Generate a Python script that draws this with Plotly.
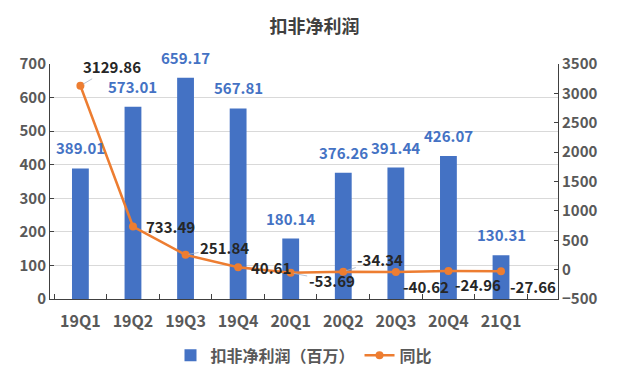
import plotly.graph_objects as go

categories = ["19Q1", "19Q2", "19Q3", "19Q4", "20Q1", "20Q2", "20Q3", "20Q4", "21Q1"]
profit = [389.01, 573.01, 659.17, 567.81, 180.14, 376.26, 391.44, 426.07, 130.31]
yoy = [3129.86, 733.49, 251.84, 40.61, -53.69, -34.34, -40.62, -24.96, -27.66]
left_ticks = [0, 100, 200, 300, 400, 500, 600, 700]
right_ticks = [-500, 0, 500, 1000, 1500, 2000, 2500, 3000, 3500]

# label offsets (pixels) for line labels -- styling only
yoy_dx = [32, 38, 39, 33, 41, 37, 30, 30, 32]
yoy_dy = [-19, 0, -7, 0, 8, -12, 14, 13, 15]
yoy_leader = [True, False, True, False, True, True, False, False, False]

FONT = "Noto Sans CJK SC"
BLUE = "#4472C4"
ORANGE = "#ED7D31"
GREY = "#595959"

fig = go.Figure()
fig.add_trace(go.Bar(
    x=categories, y=profit, name="扣非净利润（百万）",
    marker=dict(color=BLUE, line=dict(width=0)), width=0.32,
    yaxis="y",
))
fig.add_trace(go.Scatter(
    x=categories, y=yoy, name="同比", mode="lines+markers",
    line=dict(color=ORANGE, width=2.5), marker=dict(color=ORANGE, size=8),
    yaxis="y2",
))

annotations = []
for c, v in zip(categories, profit):
    annotations.append(dict(
        x=c, y=v, xref="x", yref="y", text=f"{v:.2f}", showarrow=False,
        yanchor="bottom", yshift=8,
        font=dict(family=FONT, size=15, color=BLUE, weight="bold"),
    ))
for i, (c, v) in enumerate(zip(categories, yoy)):
    if yoy_leader[i]:
        annotations.append(dict(
            x=c, y=v, xref="x", yref="y2", text=f"{v:.2f}", showarrow=True,
            arrowhead=0, arrowwidth=0.8, arrowcolor="#A6B4C8", standoff=3,
            ax=yoy_dx[i], ay=yoy_dy[i],
            font=dict(family=FONT, size=15, color="#262626", weight="bold"),
        ))
    else:
        annotations.append(dict(
            x=c, y=v, xref="x", yref="y2", text=f"{v:.2f}", showarrow=False,
            xshift=yoy_dx[i], yshift=-yoy_dy[i],
            font=dict(family=FONT, size=15, color="#262626", weight="bold"),
        ))

# page body has an 8px margin, so the figure is 8px smaller and margins shifted
fig.update_layout(
    width=613, height=368,
    margin=dict(l=42, r=63, t=56, b=77, autoexpand=False),
    paper_bgcolor="white", plot_bgcolor="white",
    title=dict(text="扣非净利润", x=0.5, xanchor="center", y=0.948, yanchor="middle",
               yref="container",
               font=dict(family=FONT, size=18, color="#404040", weight="bold")),
    font=dict(family=FONT, size=14, color=GREY),
    showlegend=True,
    legend=dict(orientation="h", x=0.5, xanchor="center", y=-0.24, yanchor="middle",
                font=dict(family=FONT, size=16, color=GREY, weight="bold"),
                itemwidth=30, traceorder="normal"),
    xaxis=dict(
        type="category", showline=True, linecolor="#404040", linewidth=1,
        ticks="inside", tickson="boundaries", ticklen=5, tickcolor="#404040",
        tickfont=dict(family=FONT, size=16, color=GREY, weight="bold"),
        showgrid=False, automargin=False, ticklabelstandoff=8,
    ),
    yaxis=dict(
        range=[0, 700], tickvals=left_ticks, showline=True, linecolor="#404040",
        ticks="inside", ticklen=4, tickcolor="#404040",
        showgrid=True, gridcolor="#D9D9D9", gridwidth=1, zeroline=False,
        tickfont=dict(family=FONT, size=15, color=GREY, weight="bold"),
        automargin=False,
    ),
    yaxis2=dict(
        range=[-500, 3500], tickvals=right_ticks, overlaying="y", side="right",
        showline=True, linecolor="#404040", ticks="inside", ticklen=4,
        tickcolor="#404040", showgrid=False, zeroline=False,
        tickfont=dict(family=FONT, size=15, color=GREY, weight="bold"),
        automargin=False,
    ),
    annotations=annotations,
)

fig.write_html("out.html")
